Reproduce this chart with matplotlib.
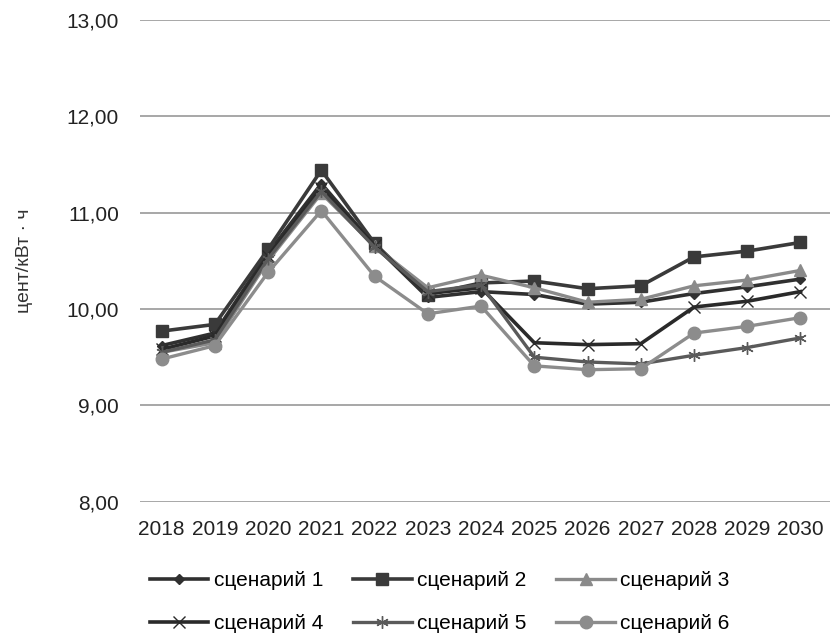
import matplotlib
matplotlib.use("Agg")
import matplotlib.pyplot as plt

years = ["2018", "2019", "2020", "2021", "2022", "2023", "2024",
         "2025", "2026", "2027", "2028", "2029", "2030"]
s1 = [9.62, 9.75, 10.58, 11.30, 10.66, 10.12, 10.18, 10.15, 10.05, 10.07, 10.16, 10.23, 10.31]
s2 = [9.77, 9.84, 10.62, 11.44, 10.68, 10.15, 10.27, 10.29, 10.21, 10.24, 10.54, 10.60, 10.69]
s3 = [9.55, 9.65, 10.50, 11.20, 10.65, 10.22, 10.35, 10.22, 10.07, 10.10, 10.24, 10.30, 10.40]
s4 = [9.58, 9.72, 10.55, 11.25, 10.66, 10.16, 10.22, 9.65, 9.63, 9.64, 10.02, 10.08, 10.18]
s5 = [9.55, 9.68, 10.52, 11.22, 10.64, 10.18, 10.25, 9.50, 9.45, 9.43, 9.52, 9.60, 9.70]
s6 = [9.48, 9.62, 10.38, 11.02, 10.34, 9.95, 10.03, 9.41, 9.37, 9.38, 9.75, 9.82, 9.91]
names = ["сценарий 1", "сценарий 2", "сценарий 3", "сценарий 4", "сценарий 5", "сценарий 6"]
yticks = [8, 9, 10, 11, 12, 13]

plt.rcParams['font.family'] = ['Liberation Sans', 'DejaVu Sans']

fig = plt.figure(figsize=(8.37, 6.36), dpi=100)
ax = fig.add_axes([0.167, 0.211, 0.825, 0.758])

x = list(range(len(years)))
styles = [
    dict(color="#303030", marker="D", ms=5, lw=2.6),
    dict(color="#3a3a3a", marker="s", ms=9, lw=2.6),
    dict(color="#8a8a8a", marker="^", ms=8, lw=2.4),
    dict(color="#2a2a2a", marker="x", ms=8, lw=2.6, mew=1),
    dict(color="#5a5a5a", marker=(6, 2, 0), ms=9, lw=2.4, mew=1),
    dict(color="#8c8c8c", marker="o", ms=9, lw=2.4),
]
lines = []
for data, name, st in zip([s1, s2, s3, s4, s5, s6], names, styles):
    ln, = ax.plot(x, data, label=name, **st)
    lines.append(ln)

ax.set_ylim(8, 13)
ax.set_xlim(-0.41, 12.56)
ax.set_yticks(yticks)
ax.set_yticklabels([f"{v:.2f}".replace(".", ",") for v in yticks], fontsize=15, color="#222222")
ax.set_xticks(x)
ax.set_xticklabels(years, fontsize=15, color="#222222")
ax.tick_params(axis='both', length=0)
ax.tick_params(axis='y', pad=15)
ax.tick_params(axis='x', pad=13)
for sp in ax.spines.values():
    sp.set_visible(False)
ax.yaxis.grid(True, color="#8f8f8f", lw=1.1)
ax.set_axisbelow(True)
ax.set_ylabel("цент/кВт · ч", fontsize=14, color="#333333", labelpad=24)

order = [0, 3, 1, 4, 2, 5]
fig.legend([lines[i] for i in order], [names[i] for i in order], ncol=3,
           loc="lower left", bbox_to_anchor=(0.157, -0.025),
           frameon=False, fontsize=15, handlelength=2.8, columnspacing=1.45,
           labelspacing=1.15, handletextpad=0.25)

fig.savefig("out.png", dpi=100)
